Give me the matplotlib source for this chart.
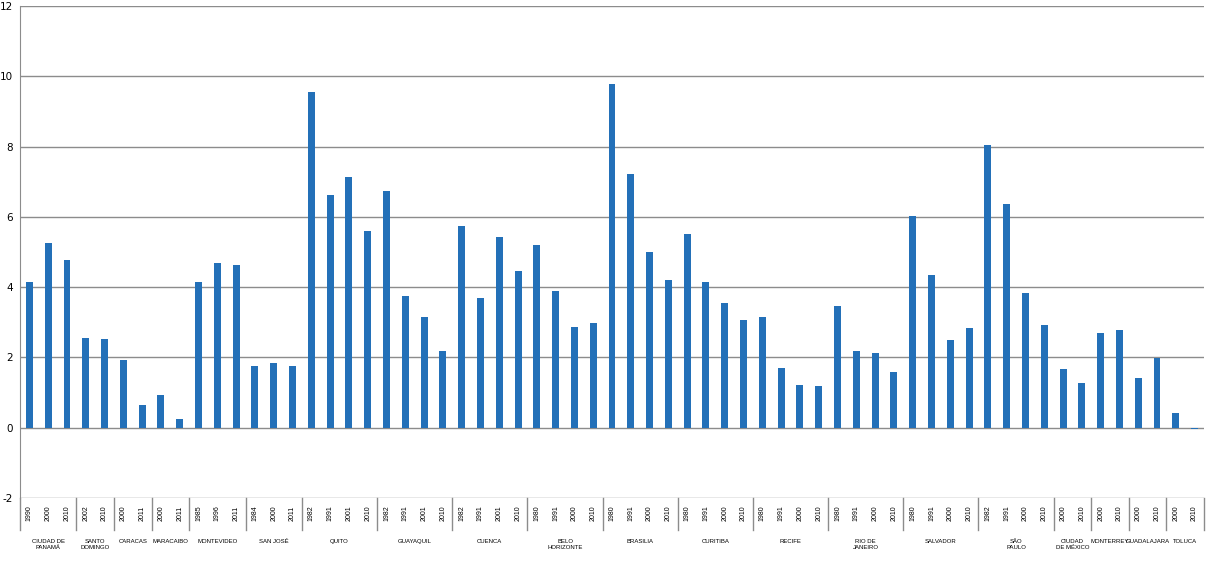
import matplotlib.pyplot as plt
import numpy as np

plt.rcParams['axes.unicode_minus'] = False

cities = ['CIUDAD DE\nPANAMÁ', 'SANTO\nDOMINGO', 'CARACAS', 'MARACAIBO', 'MONTEVIDEO',
          'SAN JOSÉ', 'QUITO', 'GUAYAQUIL', 'CUENCA', 'BELO\nHORIZONTE', 'BRASILIA',
          'CURITIBA', 'RECIFE', 'RIO DE\nJANEIRO', 'SALVADOR', 'SÃO\nPAULO',
          'CIUDAD\nDE MÉXICO', 'MONTERREY', 'GUADALAJARA', 'TOLUCA']
years = [
    ['1990', '2000', '2010'],
    ['2002', '2010'],
    ['2000', '2011'],
    ['2000', '2011'],
    ['1985', '1996', '2011'],
    ['1984', '2000', '2011'],
    ['1982', '1991', '2001', '2010'],
    ['1982', '1991', '2001', '2010'],
    ['1982', '1991', '2001', '2010'],
    ['1980', '1991', '2000', '2010'],
    ['1980', '1991', '2000', '2010'],
    ['1980', '1991', '2000', '2010'],
    ['1980', '1991', '2000', '2010'],
    ['1980', '1991', '2000', '2010'],
    ['1980', '1991', '2000', '2010'],
    ['1982', '1991', '2000', '2010'],
    ['2000', '2010'],
    ['2000', '2010'],
    ['2000', '2010'],
    ['2000', '2010'],
]
values = [
    [4.15, 5.26, 4.77],
    [2.55, 2.52],
    [1.93, 0.65],
    [0.93, 0.25],
    [4.15, 4.69, 4.63],
    [1.76, 1.84, 1.76],
    [9.55, 6.62, 7.13, 5.60],
    [6.73, 3.75, 3.14, 2.18],
    [5.74, 3.69, 5.43, 4.46],
    [5.20, 3.89, 2.87, 2.98],
    [9.78, 7.22, 5.00, 4.20],
    [5.51, 4.15, 3.55, 3.06],
    [3.14, 1.70, 1.22, 1.19],
    [3.46, 2.18, 2.13, 1.58],
    [6.02, 4.35, 2.50, 2.84],
    [8.04, 6.36, 3.83, 2.92],
    [1.67, 1.27],
    [2.69, 2.78],
    [1.41, 1.98],
    [0.42, -0.04],
]

flat_vals = [v for grp in values for v in grp]
flat_years = [y for grp in years for y in grp]
x = np.arange(len(flat_vals))

fig = plt.figure(figsize=(12.14, 5.63), dpi=100)
ax = fig.add_axes([20 / 1214, 65 / 563, 1184 / 1214, 492 / 563])

grid_c = '#8c8c8c'
ax.bar(x, flat_vals, width=0.37, color='#2370b8', zorder=3)

ax.set_xlim(-0.5, len(flat_vals) - 0.5)
ax.set_ylim(-2, 12)
ax.set_yticks(range(-2, 13, 2))
ax.yaxis.grid(True, color=grid_c, linewidth=1)
ax.set_axisbelow(True)
ax.set_xticks([])
ax.tick_params(axis='y', length=0, labelsize=7.5, pad=5)
for s in ['top', 'right', 'bottom']:
    ax.spines[s].set_visible(False)
ax.spines['left'].set_color(grid_c)
ax.spines['left'].set_bounds(-2, 12)

trans = ax.get_xaxis_transform()
# year labels
for xi, yr in zip(x, flat_years):
    ax.text(xi, -0.031, yr, transform=trans, rotation=90, ha='center', va='center',
            fontsize=5, family='Liberation Sans')

# separators and city labels
ax.plot([-0.5, -0.5], [0, -0.065], transform=trans, color=grid_c, lw=1, clip_on=False)
start = 0
for city, grp in zip(cities, values):
    end = start + len(grp)
    ax.plot([end - 0.5, end - 0.5], [0, -0.065], transform=trans, color=grid_c,
            lw=1, clip_on=False)
    ax.text((start + end - 1) / 2, -0.083, city, transform=trans, ha='center', va='top',
            fontsize=4.3, family='Liberation Sans', linespacing=1.3)
    start = end

fig.savefig('out.png', dpi=100)
